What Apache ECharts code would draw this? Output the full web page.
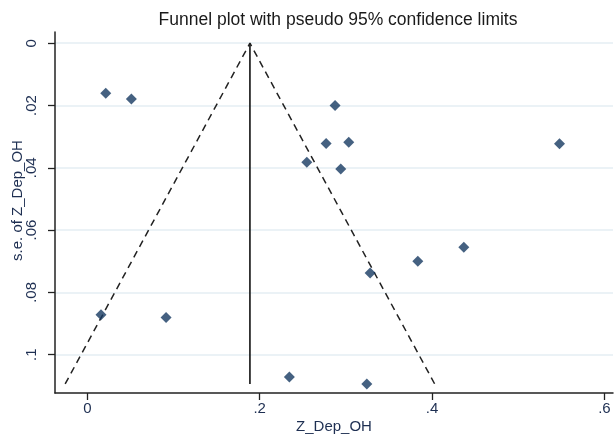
<!DOCTYPE html>
<html>
<head>
<meta charset="utf-8">
<title>Funnel plot</title>
<script src="https://cdn.jsdelivr.net/npm/echarts@6/dist/echarts.min.js"></script>
<style>
    html, body { margin: 0; padding: 0; background: #fff; }
    #chart { width: 614px; height: 440px; }
</style>
</head>
<body>
<div id="chart"></div>
<script>
    // study estimates (x) and their standard errors (y)
    const effectX = [0.0214, 0.0511, 0.2875, 0.2771, 0.3034, 0.2547, 0.2941, 0.5479,
                     0.4369, 0.3835, 0.3282, 0.0159, 0.0914, 0.2345, 0.3243]
    const seY = [0.0161, 0.0179, 0.0200, 0.0322, 0.0318, 0.0382, 0.0404, 0.0323,
                 0.0655, 0.0700, 0.0738, 0.0872, 0.0881, 0.1072, 0.1094]

    // pooled estimate line and pseudo 95% limits
    const pooledX = [0.1887, 0.1887]
    const pooledSe = [0, 0.1094]
    const limitX = [-0.0257, 0.1887, 0.4031]
    const limitSe = [0.1094, 0, 0.1094]

    const xTicks = [0, 0.2, 0.4, 0.6]
    const yTicks = [0, 0.02, 0.04, 0.06, 0.08, 0.1]

    const textColor = '#1e2f52'
    const stataLabel = function (v) {
        return v === 0 ? '0' : String(+v.toFixed(3)).replace(/^0/, '')
    }

    const chart = echarts.init(document.getElementById('chart'), null, { renderer: 'canvas' })

    chart.setOption({
        animation: false,
        backgroundColor: '#ffffff',
        textStyle: { fontFamily: 'Liberation Sans, Arial, sans-serif' },
        title: {
            text: 'Funnel plot with pseudo 95% confidence limits',
            left: 333,
            top: 6,
            textAlign: 'center',
            textStyle: { fontSize: 17.5, fontWeight: 'normal', color: '#1a1a1a', fontFamily: 'Liberation Sans, Arial, sans-serif' }
        },
        grid: { left: 55, right: 1, top: 32, bottom: 47, containLabel: false, outerBoundsMode: 'none' },
        xAxis: {
            type: 'value',
            min: -0.0375,
            max: 0.61,
            name: 'Z_Dep_OH',
            nameLocation: 'middle',
            nameGap: 26,
            nameMoveOverlap: false,
            nameTextStyle: { fontSize: 15, color: textColor },
            axisLine: { show: true, onZero: false, lineStyle: { color: '#222', width: 1.5 } },
            axisTick: { show: true, length: 7, customValues: xTicks, lineStyle: { color: '#222', width: 1.3 } },
            axisLabel: { customValues: xTicks, formatter: stataLabel, fontSize: 15, color: textColor, margin: 8 },
            splitLine: { show: false }
        },
        yAxis: {
            type: 'value',
            inverse: true,
            min: -0.0036,
            max: 0.1123,
            name: 's.e. of Z_Dep_OH',
            nameLocation: 'middle',
            nameGap: 30,
            nameRotate: 90,
            nameMoveOverlap: false,
            nameTextStyle: { fontSize: 15, color: textColor, padding: [0, 0, 0, 24] },
            axisLine: { show: true, onZero: false, lineStyle: { color: '#222', width: 1.5 } },
            axisTick: { show: true, length: 7, customValues: yTicks, lineStyle: { color: '#222', width: 1.3 } },
            axisLabel: { customValues: yTicks, formatter: stataLabel, fontSize: 15, color: textColor, rotate: 90, margin: 16 },
            splitLine: { show: true, lineStyle: { color: '#e4eef3', width: 1.5 } }
        },
        series: [
            {
                type: 'line',
                data: pooledX.map((x, i) => [x, pooledSe[i]]),
                symbol: 'none',
                lineStyle: { color: '#111', width: 1.6 },
                z: 2
            },
            {
                type: 'line',
                data: limitX.map((x, i) => [x, limitSe[i]]),
                symbol: 'none',
                lineStyle: { color: '#222', width: 1.5, type: [7, 5] },
                z: 2
            },
            {
                type: 'scatter',
                data: effectX.map((x, i) => [x, seY[i]]),
                symbol: 'diamond',
                symbolSize: 11,
                itemStyle: { color: '#163a62' },
                z: 3
            }
        ]
    })
</script>
</body>
</html>
